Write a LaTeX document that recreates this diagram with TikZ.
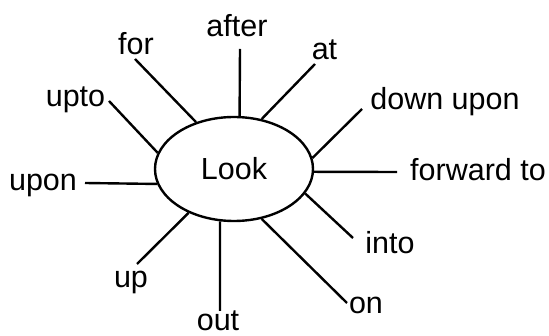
\documentclass[tikz,border=0pt]{standalone}
\usepackage{fontspec}
\setmainfont{Liberation Sans}
\usetikzlibrary{shapes.geometric}
\begin{document}
\begin{tikzpicture}[x=1pt,y=-1pt,
  lbl/.style={anchor=base,inner sep=0pt,font=\fontsize{30.5}{36}\selectfont},
  spoke/.style={line width=2.4pt,line cap=butt},
  hub/.style={draw,ellipse,line width=2.4pt,minimum width=158pt,minimum height=104pt,inner sep=0pt,font=\fontsize{30.5}{36}\selectfont}]
\useasboundingbox (0,0) rectangle (549,336);
\node[hub] (L) at (234,169) {Look};
% labels
\node[lbl] (after) at (237,37) {after};
\node[lbl] (for) at (136,55) {for};
\node[lbl] (upto) at (75.5,107) {upto};
\node[lbl] (at) at (324.5,60) {at};
\node[lbl] (downupon) at (445,110) {down upon};
\node[lbl] (forwardto) at (478,181) {forward to};
\node[lbl] (into) at (390,254) {into};
\node[lbl] (on) at (366,314) {on};
\node[lbl] (out) at (218,331) {out};
\node[lbl] (up) at (131,288) {up};
\node[lbl] (upon) at (43,191) {upon};
% outer ends of the spokes
\coordinate (eafter) at (240,49);
\coordinate (efor) at (135,59);
\coordinate (eupto) at (109,101);
\coordinate (eat) at (315,64);
\coordinate (edownupon) at (362,109);
\coordinate (eforwardto) at (397,172);
\coordinate (einto) at (353,238);
\coordinate (eon) at (347,303);
\coordinate (eout) at (220,311);
\coordinate (eup) at (137,264);
\coordinate (eupon) at (85,183);
% spokes
\draw[spoke] (L.84.6) -- (eafter);
\draw[spoke] (L.129.1) -- (efor);
\draw[spoke] (L.168.5) -- (eupto);
\draw[spoke] (L.61.7) -- (eat);
\draw[spoke] (L.8) -- (edownupon);
\draw[spoke] (L.-2.9) -- (eforwardto);
\draw[spoke] (L.-19.9) -- (einto);
\draw[spoke] (L.-61.6) -- (eon);
\draw[spoke] (L.-105.5) -- (eout);
\draw[spoke] (L.-136.8) -- (eup);
\draw[spoke] (L.-169.4) -- (eupon);
\end{tikzpicture}
\end{document}
